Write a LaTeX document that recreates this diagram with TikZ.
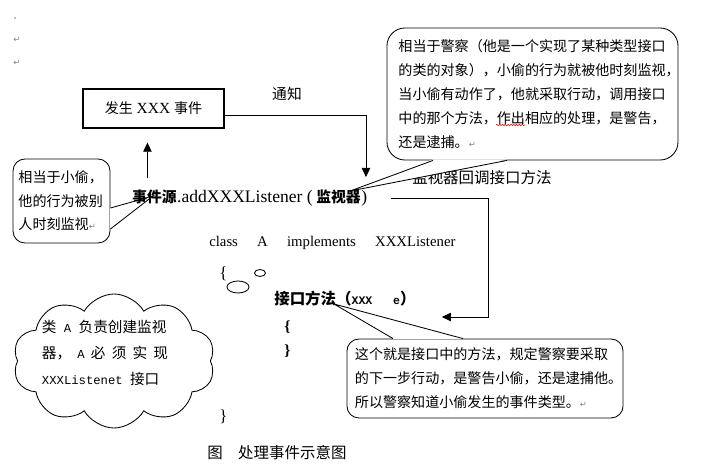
\documentclass[tikz,border=0pt]{standalone}
\usepackage{fontspec}
\setmainfont{Liberation Serif}
\newfontfamily\cjk{Noto Sans CJK SC}
\newfontfamily\monofont{Liberation Mono}
\newfontfamily\symfont{DejaVu Sans}
\usetikzlibrary{calc,arrows.meta,shapes.symbols,decorations.pathmorphing}
\newcommand{\zh}[1]{{\cjk #1}}
\newcommand{\retmark}{{\symfont\fontsize{6}{6}\selectfont\textcolor{gray}{↵}}}

\begin{document}
\begin{tikzpicture}[x=0.025cm,y=-0.025cm]
% Keep the margins of the original screenshot.
\useasboundingbox (0,0) rectangle (703,472);

% Looks that repeat.
\tikzstyle{conn}=[line width=0.6pt,-{Triangle[width=6pt,length=6.5pt]}]
\tikzstyle{bubble}=[draw,fill=white,line width=0.6pt,inner sep=0pt,align=left,font=\cjk\fontsize{10}{17}\selectfont]
\tikzstyle{codetext}=[inner sep=0pt,font=\fontsize{10.5}{12}\selectfont]
\tikzstyle{pmark}=[inner sep=0pt,font=\symfont\fontsize{6}{6}\selectfont,text=gray]

% Paragraph marks left over from the editor.
\fill[gray] (15,18) circle[radius=0.8];
\node[pmark] (ret1) at (17,40) {↵};
\node[pmark] (ret2) at (17,63) {↵};

% This draws the three callouts.
\node[bubble,rounded corners=0.45cm,minimum width=7.275cm,minimum height=3.3cm,text width=6.7cm] (police) at (532.5,94)
  {相当于警察（他是一个实现了某种类型接口\\的类的对象），小偷的行为就被他时刻监视，\\当小偷有动作了，他就采取行动，调用接口\\中的那个方法，作出相应的处理，是警告，\\还是逮捕。\retmark};
\draw[red,line width=0.4pt,decorate,decoration={snake,amplitude=0.5pt,segment length=2pt}] (496,125) -- (525,125);
\node[bubble,rounded corners=0.3cm,minimum width=2.425cm,minimum height=2.1cm,text width=2.15cm,font=\cjk\fontsize{10}{16.7}\selectfont] (thief) at (61.5,201)
  {相当于小偷，\\他的行为被别\\人时刻监视\retmark};
\node[bubble,rounded corners=0.3cm,minimum width=6.9cm,minimum height=1.975cm,text width=6.5cm] (rule) at (485,378.5)
  {这个就是接口中的方法，规定警察要采取\\的下一步行动，是警告小偷，还是逮捕他。\\所以警察知道小偷发生的事件类型。\retmark};

% This draws the event box and the registering line.
\node[draw,line width=0.8pt,minimum width=3.525cm,minimum height=0.975cm,inner sep=0pt,font=\fontsize{11}{13}\selectfont] (evt) at (153.5,108.5)
  {\zh{\fontsize{10}{13}\selectfont 发生} XXX \zh{\fontsize{10}{13}\selectfont 事件}};
\node[inner sep=0pt,font=\cjk\fontsize{10.5}{12}\selectfont] (notify) at (287,94) {通知};

\node[inner sep=0pt,anchor=base west,font=\cjk\bfseries\fontsize{10.5}{12}\selectfont] (src) at (132,203) {事件源};
\node[inner sep=0pt,anchor=base west,font=\fontsize{12.5}{14}\selectfont] (reg) at (src.base east) {.addXXXListener (};
\node[inner sep=0pt,anchor=base west,font=\cjk\bfseries\fontsize{10.5}{12}\selectfont] (lsn) at ($(reg.base east)+(3,0)$) {监视器};
\node[inner sep=0pt,anchor=base west,font=\fontsize{12.5}{14}\selectfont] (rp) at (lsn.base east) {)};
\node[inner sep=0pt,anchor=west,font=\cjk\fontsize{11}{12}\selectfont] (cbk) at (412,178) {监视器回调接口方法};

% This draws the listener class.
\node[codetext,anchor=west] (cls) at (209,243) {class\hspace{1.3em}A\hspace{1.3em}implements\hspace{1.3em}XXXListener};
\node[codetext,anchor=west,font=\fontsize{12}{12}\selectfont] (lbr) at (219,274) {\{};
\node[codetext,anchor=west,font=\fontsize{12}{12}\selectfont] (rbr) at (219,417) {\}};
\node[inner sep=0pt,anchor=west] (meth) at (274,299)
  {\zh{\bfseries\fontsize{11}{12}\selectfont 接口方法（}{\monofont\bfseries\fontsize{8.2}{12}\selectfont XXX\ \ \ e}\zh{\bfseries\fontsize{11}{12}\selectfont ）}};
\node[codetext,anchor=west,font=\bfseries\fontsize{11}{12}\selectfont] (mob) at (284,327) {\{};
\node[codetext,anchor=west,font=\bfseries\fontsize{11}{12}\selectfont] (mcb) at (284,351) {\}};

% This draws the thought cloud of class A.
\node[cloud,draw,line width=0.6pt,cloud puffs=10,cloud puff arc=120,shape border rotate=18,cloud ignores aspect,minimum width=5.05cm,minimum height=3.35cm,inner sep=0pt] (plancloud) at (114,361) {};
\draw[line width=0.6pt] (238,287) ellipse[x radius=11,y radius=6];
\draw[line width=0.6pt] (260,273) ellipse[x radius=5.5,y radius=3.5];
\node[inner sep=0pt,align=left,font=\cjk\fontsize{10.4}{18.5}\selectfont] (plan) at (105,352.5)
  {类{\monofont\fontsize{8.7}{10}\selectfont\ A\ }负责创建监视\\
   \makebox[3.15cm][s]{器， {\monofont\fontsize{8.7}{10}\selectfont A} 必 须 实 现}\\
   {\monofont\fontsize{8.7}{10}\selectfont XXXListenet\ }接口};

% This draws the callout pointers.
\coordinate (thieftip) at ($(src.base west)+(21,-7)$);
\draw[white,line width=1.2pt] ($(thief.east)+(0,7)$) -- ($(thief.east)+(0,28)$);
\draw[line width=0.6pt] ($(thief.east)+(0,7)$) -- (thieftip) -- ($(thief.east)+(0,28)$);

\coordinate (policetip) at ($(lsn.base west)+(34,-12)$);
\fill[white] ($(police.south)+(-99.5,-1)$) -- (policetip) -- ($(police.south)+(-25.5,-1)$) -- cycle;
\draw[line width=0.6pt] ($(police.south)+(-99.5,0)$) -- (policetip) -- ($(police.south)+(-25.5,0)$);

\coordinate (ruletip) at ($(meth.west)+(60,5)$);
\draw[white,line width=1.2pt] ($(rule.north)+(-92,0)$) -- ($(rule.north)+(-22,0)$);
\draw[line width=0.6pt] ($(rule.north)+(-92,0)$) -- (ruletip) -- ($(rule.north)+(-22,0)$);

% This draws the arrows between event, source and listener.
\coordinate (upfoot) at ($(src.north)+(-7,-12)$);
\draw[conn,shorten >=0.35cm] (upfoot) -- (upfoot |- evt.south);
\coordinate (notetip) at ($(lsn.north east)+(5,-13)$);
\draw[conn] ($(evt.east)+(0,6.5)$) -| (notetip);
\coordinate (cbtip) at ($(meth.east)+(26,18)$);
\draw[conn] ($(rp.east)+(24,0)$) -| ($(cbtip)+(47,0)$) -- (cbtip);

% Caption.
\node[inner sep=0pt,anchor=west,font=\cjk\fontsize{11}{12}\selectfont] (caption) at (207,453) {图　处理事件示意图};
\end{tikzpicture}
\end{document}
